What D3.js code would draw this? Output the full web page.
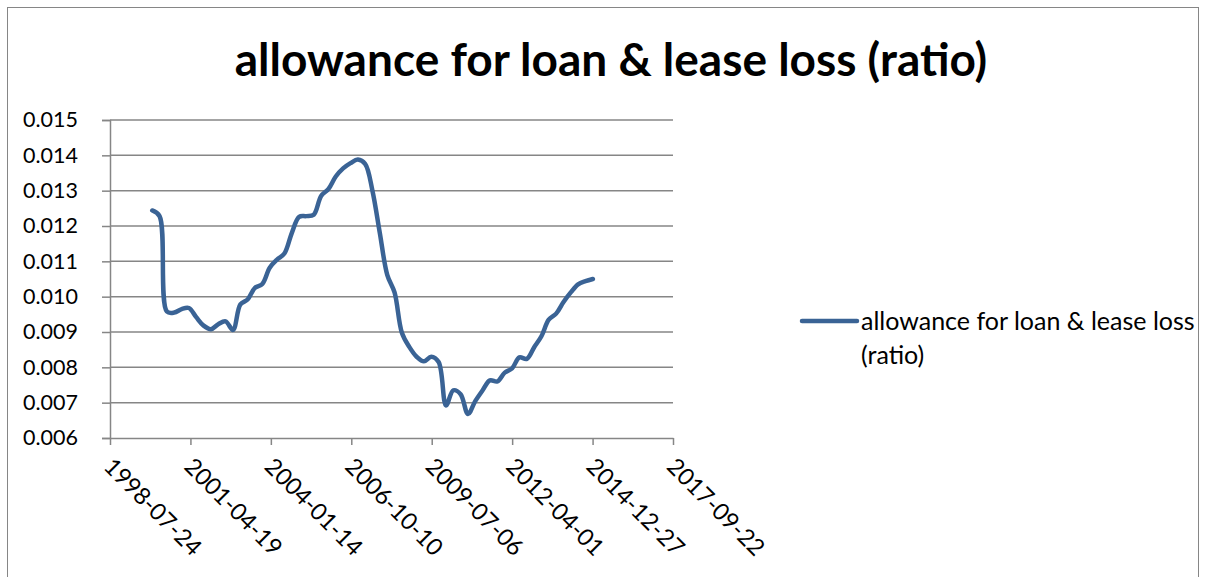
<!DOCTYPE html>
<html>
<head>
<meta charset="utf-8">
<script src="https://cdn.jsdelivr.net/npm/d3@7"></script>
<style>
  html, body { margin: 0; padding: 0; background: #ffffff; }
  svg { display: block; }
</style>
</head>
<body>
<svg id="chart" width="1207" height="577"></svg>
<script>
// Quarter-end reporting dates
const dates = [
  "1999-12-31","2000-03-31","2000-06-30","2000-09-30","2000-12-31",
  "2001-03-31","2001-06-30","2001-09-30","2001-12-31",
  "2002-03-31","2002-06-30","2002-09-30","2002-12-31",
  "2003-03-31","2003-06-30","2003-09-30","2003-12-31",
  "2004-03-31","2004-06-30","2004-09-30","2004-12-31",
  "2005-03-31","2005-06-30","2005-09-30","2005-12-31",
  "2006-03-31","2006-06-30","2006-09-30","2006-12-31",
  "2007-03-31","2007-06-30","2007-09-30","2007-12-31",
  "2008-03-31","2008-06-30","2008-09-30","2008-12-31",
  "2009-03-31","2009-06-30","2009-09-30","2009-12-31",
  "2010-03-31","2010-06-30","2010-09-30","2010-12-31",
  "2011-03-31","2011-06-30","2011-09-30","2011-12-31",
  "2012-03-31","2012-06-30","2012-09-30","2012-12-31",
  "2013-03-31","2013-06-30","2013-09-30","2013-12-31",
  "2014-03-31","2014-06-30","2014-09-30","2014-12-31"
];

// Allowance for loan & lease loss, as a ratio of loans
const ratios = [
  0.01244, 0.01228, 0.00958, 0.00955, 0.00965,
  0.00968, 0.00942, 0.00918, 0.00908,
  0.00922, 0.00930, 0.00906, 0.00978,
  0.00992, 0.01025, 0.01036, 0.01082,
  0.01105, 0.01122, 0.01180, 0.01226,
  0.01228, 0.01232, 0.01285, 0.01305,
  0.01340, 0.01363, 0.01378, 0.01388,
  0.01376, 0.01300, 0.01180, 0.01062,
  0.01012, 0.00898, 0.00858, 0.00830,
  0.00817, 0.00830, 0.00815, 0.00692,
  0.00735, 0.00724, 0.00668, 0.00705,
  0.00735, 0.00763, 0.00760, 0.00785,
  0.00797, 0.00828, 0.00824, 0.00857,
  0.00888, 0.00935, 0.00952, 0.00985,
  0.01012, 0.01035, 0.01044, 0.01050
];

// Axis ticks
const xTickLabels = ["1998-07-24","2001-04-19","2004-01-14","2006-10-10",
                     "2009-07-06","2012-04-01","2014-12-27","2017-09-22"];
const yTicks = [0.006, 0.007, 0.008, 0.009, 0.010, 0.011, 0.012, 0.013, 0.014, 0.015];

const seriesName = "allowance for loan & lease loss (ratio)";
const titleText = "allowance for loan & lease loss (ratio)";

const parse = d3.utcParse("%Y-%m-%d");
const points = dates.map((d, i) => ({ date: parse(d), value: ratios[i] }));
const xTicks = xTickLabels.map(parse);

const FONT = "Lato, 'Open Sans', sans-serif";
const AXIS = "#868686";
const LINE = "#3a6395";

const svg = d3.select("#chart");

// Chart frame
svg.append("rect")
  .attr("x", 7.5).attr("y", 7.5)
  .attr("width", 1191).attr("height", 600)
  .attr("fill", "#ffffff")
  .attr("stroke", "#868686").attr("stroke-width", 1);

const x = d3.scaleUtc()
  .domain([xTicks[0], xTicks[xTicks.length - 1]])
  .range([110, 673]);

const y = d3.scaleLinear()
  .domain([0.006, 0.015])
  .range([438, 120]);

// Horizontal gridlines
svg.append("g")
  .selectAll("line")
  .data(yTicks.slice(1))
  .join("line")
  .attr("x1", x.range()[0]).attr("x2", x.range()[1])
  .attr("y1", d => y(d)).attr("y2", d => y(d))
  .attr("stroke", AXIS).attr("stroke-width", 1.5);

// Y axis
const yAxis = svg.append("g")
  .attr("transform", `translate(${x.range()[0]},0)`)
  .call(d3.axisLeft(y).tickValues(yTicks).tickFormat(d3.format(".3f")).tickSize(8).tickPadding(24));
yAxis.select(".domain").attr("stroke", AXIS).attr("stroke-width", 1.5);
yAxis.selectAll(".tick line").attr("stroke", AXIS).attr("stroke-width", 1.5);
yAxis.selectAll(".tick text")
  .attr("fill", "#000").attr("font-family", FONT).attr("font-size", 21.5);

// X axis
const xAxis = svg.append("g")
  .attr("transform", `translate(0,${y.range()[0]})`)
  .call(d3.axisBottom(x).tickValues(xTicks).tickFormat(d3.utcFormat("%Y-%m-%d")).tickSize(7).tickSizeOuter(0));
xAxis.select(".domain").attr("stroke", AXIS).attr("stroke-width", 1.5);
xAxis.selectAll(".tick line").attr("stroke", AXIS).attr("stroke-width", 1.5);
xAxis.selectAll(".tick text")
  .attr("fill", "#000").attr("font-family", FONT).attr("font-size", 23.5)
  .attr("text-anchor", "start")
  .attr("x", 0).attr("y", 0).attr("dy", 0)
  .attr("transform", "translate(-8,30) rotate(45)");

// Series line (smoothed)
const line = d3.line()
  .x(d => x(d.date))
  .y(d => y(d.value))
  .curve(d3.curveCatmullRom.alpha(0.5));

svg.append("path")
  .datum(points)
  .attr("fill", "none")
  .attr("stroke", LINE)
  .attr("stroke-width", 4.5)
  .attr("stroke-linejoin", "round")
  .attr("stroke-linecap", "round")
  .attr("d", line);

// Title
svg.append("text")
  .attr("x", 611).attr("y", 76)
  .attr("text-anchor", "middle")
  .attr("font-family", FONT).attr("font-weight", "bold").attr("font-size", 46)
  .attr("fill", "#000")
  .text(titleText);

// Legend
const legend = svg.append("g").attr("transform", "translate(802,321)");
legend.append("line")
  .attr("x1", 0).attr("x2", 55).attr("y1", 0).attr("y2", 0)
  .attr("stroke", LINE).attr("stroke-width", 4.5).attr("stroke-linecap", "round");
const words = seriesName.split(" ");
legend.append("text")
  .attr("x", 59).attr("y", 9)
  .attr("font-family", FONT).attr("font-size", 25).attr("fill", "#000")
  .text(words.slice(0, 6).join(" "));
legend.append("text")
  .attr("x", 59).attr("y", 43)
  .attr("font-family", FONT).attr("font-size", 25).attr("fill", "#000")
  .text(words.slice(6).join(" "));
</script>
</body>
</html>
